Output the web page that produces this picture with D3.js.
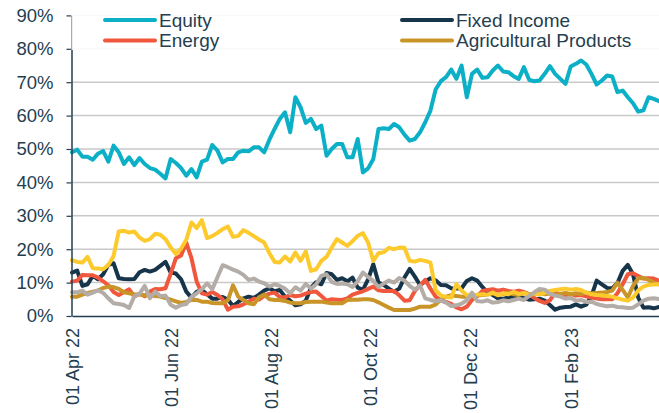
<!DOCTYPE html>
<html>
<head>
<meta charset="utf-8">
<script src="https://cdn.jsdelivr.net/npm/d3@7"></script>
<style>
  html, body { margin: 0; padding: 0; background: #fff; }
  svg { display: block; font-family: 'Liberation Sans', Arial, sans-serif; }
</style>
</head>
<body>
<svg width="659" height="413"></svg>
<script>
// ---- Dados (% por observação, abr/22 -> mar/23)
const startDate = new Date(2022, 3, 1);
const endDate = new Date(2023, 2, 27);
const xTickDates = [new Date(2022, 3, 1), new Date(2022, 5, 1), new Date(2022, 7, 1),
                    new Date(2022, 9, 1), new Date(2022, 11, 1), new Date(2023, 1, 1)];
const yTicks = [0, 10, 20, 30, 40, 50, 60, 70, 80, 90];

const equity = [49.0,49.8,47.7,47.7,46.8,48.6,49.4,46.2,51.0,49.0,
  45.5,47.5,45.2,47.3,45.5,44.3,43.8,42.6,41.2,47.0,
  45.8,44.3,42.0,44.0,41.5,46.2,46.8,51.2,49.5,46.0,
  47.0,47.0,49.0,49.5,49.3,50.5,50.5,49.0,52.8,56.0,
  59.0,61.0,55.0,65.5,62.5,57.8,59.0,56.0,57.0,48.0,
  50.0,51.5,51.5,47.5,47.5,53.0,43.0,44.2,47.0,56.0,
  56.2,56.0,57.5,56.5,54.3,52.5,53.0,55.0,58.0,61.5,
  67.8,70.3,71.5,73.8,71.0,75.0,65.5,72.5,73.8,71.3,
  71.5,73.5,75.0,73.2,73.0,71.8,71.0,74.5,70.7,70.3,
  70.5,72.5,74.8,72.5,71.0,69.5,74.7,75.5,76.5,75.3,
  72.5,69.3,70.5,72.0,71.7,67.0,67.5,65.5,63.7,61.2,
  61.6,65.5,65.0,64.3];

const fixedIncome = [13.0,13.6,9.0,9.5,12.0,11.0,12.5,15.3,15.8,11.3,
  11.1,11.0,11.1,13.1,13.8,13.3,13.8,15.0,16.2,13.0,
  12.7,11.0,7.3,5.5,7.2,7.8,6.5,5.2,5.2,5.7,
  4.9,3.0,4.2,5.3,5.8,5.4,6.4,7.6,8.3,7.4,
  7.8,5.8,4.6,3.2,3.5,4.6,8.5,10.1,9.5,12.9,
  12.5,10.8,11.3,10.4,11.5,8.5,7.8,11.0,15.5,10.0,
  9.3,8.2,7.3,8.2,11.5,14.1,11.8,9.3,10.3,11.3,
  10.7,9.3,9.2,8.3,8.2,8.3,10.5,11.3,10.6,8.7,
  7.1,6.3,5.3,5.1,5.6,5.8,5.6,5.3,4.9,5.0,
  5.2,4.6,3.3,1.9,2.5,2.7,2.8,3.5,2.8,3.4,
  6.0,10.6,9.5,8.4,8.3,9.9,13.5,15.3,12.5,5.5,
  2.5,2.6,2.3,2.7];

const energy = [10.3,10.6,12.3,12.2,12.2,11.5,10.4,9.2,7.2,6.3,
  7.1,8.0,5.8,6.7,5.9,7.3,8.1,8.0,8.3,12.7,
  17.3,18.1,22.0,17.3,10.3,6.8,6.4,7.2,6.3,5.0,
  1.9,2.8,2.9,3.5,4.3,5.2,4.9,6.0,6.7,7.0,
  5.7,5.6,6.3,5.9,6.1,6.7,7.2,7.3,6.0,4.6,
  5.0,4.9,4.8,5.3,6.4,6.9,7.4,8.1,8.8,7.7,
  7.5,7.5,7.5,6.2,4.6,4.7,7.5,9.2,10.8,8.2,
  5.8,4.7,4.2,3.6,2.6,2.0,2.8,4.8,5.9,7.5,
  7.8,8.0,7.6,7.9,7.5,7.3,7.6,7.2,6.5,5.4,
  4.5,3.9,4.7,7.1,6.4,6.3,6.6,6.1,6.3,5.9,
  5.5,5.2,5.0,5.0,5.0,6.8,9.5,12.5,12.8,12.0,
  11.2,11.3,11.2,10.6];

const agricultural = [5.8,5.8,6.4,6.9,7.3,7.6,8.4,8.8,8.6,8.1,
  7.1,6.8,6.5,6.4,6.2,6.1,6.0,5.8,5.4,4.9,
  4.4,3.9,4.2,4.8,4.8,4.3,4.3,3.9,3.8,3.8,
  4.7,9.2,5.8,4.8,3.8,3.5,5.6,6.4,5.0,4.8,
  4.8,4.5,4.0,3.8,3.8,4.2,4.3,4.3,4.3,4.0,
  3.8,3.8,3.8,4.8,4.9,4.9,5.0,5.0,4.8,4.1,
  3.3,2.5,1.8,1.8,1.8,1.8,2.2,2.8,2.8,2.8,
  3.4,4.9,5.8,6.2,6.0,5.8,5.8,5.9,6.1,6.3,
  6.4,6.8,6.3,6.6,7.0,6.5,6.3,6.8,6.6,6.4,
  6.9,6.5,6.7,6.3,6.6,6.9,6.5,6.8,6.6,7.0,
  6.8,6.9,7.0,7.2,7.6,10.0,7.8,5.6,9.0,11.3,
  11.4,10.8,10.0,9.5];

const yellowSeries = [16.7,16.2,16.0,17.7,14.3,14.2,14.0,15.3,18.0,25.3,
  25.5,25.0,25.3,23.5,22.5,23.0,24.6,24.3,23.0,20.5,
  18.6,20.2,22.8,28.0,26.3,28.7,23.3,23.9,24.9,26.0,
  26.8,23.7,24.0,25.7,24.9,23.9,22.9,22.0,18.8,16.2,
  16.0,17.8,16.3,19.0,16.5,19.3,13.5,14.0,16.5,17.7,
  20.5,23.0,22.0,21.0,22.4,24.0,24.8,22.0,16.5,18.8,
  19.1,20.4,20.0,20.5,20.4,16.5,16.3,16.8,16.5,16.0,
  7.7,6.2,5.7,5.5,9.5,7.6,6.3,6.2,6.4,6.5,
  6.4,7.0,6.2,6.8,6.5,7.2,6.6,6.9,6.3,6.7,
  6.5,6.9,7.5,7.8,8.0,8.2,7.9,8.1,7.8,7.0,
  6.5,6.3,6.2,6.0,5.8,5.3,4.9,4.6,5.5,7.7,
  8.8,9.3,9.4,9.5];

const graySeries = [7.1,7.1,7.6,6.4,7.0,7.7,6.9,5.3,3.8,3.6,
  3.3,2.4,5.9,6.6,9.0,5.3,7.3,6.0,6.1,3.4,
  2.5,3.3,3.6,5.7,6.8,8.0,9.8,8.0,11.6,15.2,
  14.6,13.9,13.3,12.3,10.8,11.2,10.3,9.8,8.8,9.5,
  9.0,8.2,6.8,8.6,7.6,9.6,8.2,9.5,12.0,12.5,
  10.2,9.6,9.7,9.5,8.7,10.4,13.0,11.7,10.5,8.7,
  9.7,10.6,10.0,11.4,10.6,9.0,7.9,9.1,5.3,4.8,
  4.4,4.7,4.0,3.0,3.2,3.7,4.7,7.0,4.5,4.3,
  4.7,4.0,4.2,4.7,4.4,4.8,5.2,4.8,6.0,7.1,
  8.1,7.9,6.6,6.1,5.8,5.2,5.4,4.6,4.8,4.2,
  4.3,3.6,3.2,2.9,3.1,2.7,2.6,2.4,2.5,3.5,
  4.6,5.2,5.3,5.1];

// ---- Séries (ordem de desenho)
const series = [
  { name: 'Equity', values: equity, color: '#0bb0c6', width: 4 },
  { name: 'Fixed Income', values: fixedIncome, color: '#17354a', width: 4 },
  { name: 'Energy', values: energy, color: '#f0573d', width: 4 },
  { name: 'Agricultural Products', values: agricultural, color: '#c99528', width: 4 },
  { name: null, values: yellowSeries, color: '#fdca2e', width: 4 },
  { name: null, values: graySeries, color: '#b4aca7', width: 4 }
];

const legendItems = [
  { name: 'Equity', color: '#0bb0c6', col: 0, row: 0 },
  { name: 'Energy', color: '#f0573d', col: 0, row: 1 },
  { name: 'Fixed Income', color: '#17354a', col: 1, row: 0 },
  { name: 'Agricultural Products', color: '#c99528', col: 1, row: 1 }
];

const textColor = '#243e50';
const svg = d3.select('svg');

// ---- Escalas
const x = d3.scaleTime().domain([startDate, endDate]).range([72, 659]);
const y = d3.scaleLinear().domain([0, 90]).range([316, 15.4]);

// data de cada observação: espaçadas igualmente entre início e fim
const toPoints = vals => {
  const step = (endDate - startDate) / (vals.length - 1);
  return vals.map((v, i) => ({ date: new Date(+startDate + i * step), value: v }));
};

// ---- Grade
svg.append('g')
  .selectAll('line')
  .data(yTicks.filter(d => d > 0))
  .join('line')
  .attr('x1', 72).attr('x2', 659)
  .attr('y1', d => y(d)).attr('y2', d => y(d))
  .attr('stroke', '#c9c9c9')
  .attr('stroke-width', 1.5);

// ---- Linhas
const line = d3.line()
  .x(d => x(d.date))
  .y(d => y(d.value));

svg.append('g')
  .selectAll('path')
  .data(series)
  .join('path')
  .attr('d', d => line(toPoints(d.values)))
  .attr('fill', 'none')
  .attr('stroke', d => d.color)
  .attr('stroke-width', d => d.width)
  .attr('stroke-linejoin', 'round')
  .attr('stroke-linecap', 'round');

// ---- Eixo Y
const yAxis = svg.append('g')
  .attr('transform', 'translate(71.5,0)')
  .call(d3.axisLeft(y).tickValues(yTicks).tickSize(5).tickSizeOuter(0).tickPadding(13)
    .tickFormat(d => d + '%'));
yAxis.select('.domain').attr('stroke', textColor).attr('stroke-width', 1.5);
yAxis.selectAll('.tick line').attr('stroke', textColor).attr('stroke-width', 1.2);
yAxis.selectAll('.tick text')
  .attr('fill', textColor)
  .style('font-size', '18.5px')
  .style('font-family', "'Liberation Sans', Arial, sans-serif");

// ---- Eixo X
const xAxis = svg.append('g')
  .attr('transform', 'translate(0,316)')
  .call(d3.axisBottom(x).tickValues(xTickDates).tickSize(0).tickSizeOuter(0)
    .tickFormat(d3.timeFormat('%d %b %y')));
xAxis.select('.domain').attr('stroke', textColor).attr('stroke-width', 1.5);
xAxis.selectAll('.tick text')
  .attr('fill', textColor)
  .attr('transform', 'rotate(-90)')
  .attr('text-anchor', 'end')
  .attr('x', -12)
  .attr('y', 0)
  .attr('dy', '0.35em')
  .style('font-size', '18px')
  .style('font-family', "'Liberation Sans', Arial, sans-serif");

// ---- Legenda (fundo branco por cima da grade)
const legend = svg.append('g');
legend.append('rect')
  .attr('x', 71.5).attr('y', 0)
  .attr('width', 590).attr('height', 50)
  .attr('fill', '#fff').attr('fill-opacity', 0.88);

const item = legend.selectAll('g.item')
  .data(legendItems)
  .join('g')
  .attr('class', 'item')
  .attr('transform', d => `translate(${d.col === 0 ? 105 : 402}, ${d.row === 0 ? 20 : 40.5})`);

item.append('line')
  .attr('x1', 0).attr('x2', 50)
  .attr('stroke', d => d.color)
  .attr('stroke-width', 4)
  .attr('stroke-linecap', 'round');

item.append('text')
  .attr('x', 54)
  .attr('dy', '0.35em')
  .attr('fill', textColor)
  .style('font-size', '19px')
  .text(d => d.name);
</script>
</body>
</html>
